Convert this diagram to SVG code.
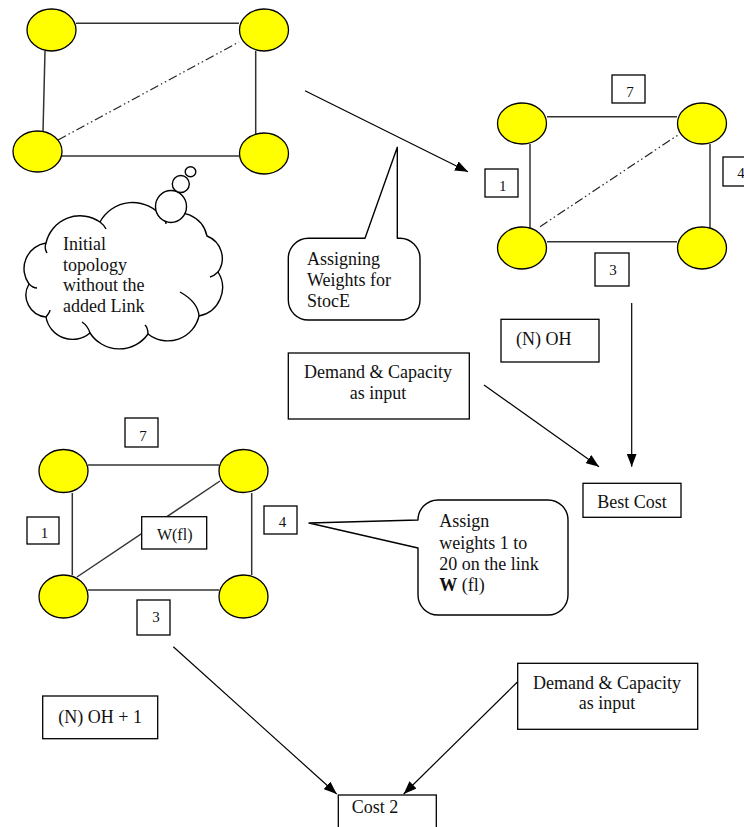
<svg xmlns="http://www.w3.org/2000/svg" width="744" height="827" viewBox="0 0 744 827">
  <style>
    .bg { fill: #ffffff; }
    .node { fill: #ffff00; stroke: #000000; stroke-width: 1.3; }
    .edge { fill: none; stroke: #333333; stroke-width: 1.5; }
    .dashdot { fill: none; stroke: #222222; stroke-width: 1.2; stroke-dasharray: 9 3 1.5 3 1.5 3; }
    .box { fill: #ffffff; stroke: #000000; stroke-width: 1.3; }
    .shape { fill: #ffffff; stroke: #000000; stroke-width: 1.4; stroke-linejoin: round; }
    .crease { fill: none; stroke: #000000; stroke-width: 1.4; }
    .arrow { fill: none; stroke: #000000; stroke-width: 1.2; marker-end: url(#head); }
    text { font-family: "Liberation Serif", "Times New Roman", serif; fill: #111111; }
    .t18 { font-size: 18px; }
    .t16 { font-size: 16px; }
    .num { font-size: 15px; text-anchor: middle; }
    .mid { text-anchor: middle; }
  </style>
  <defs>
    <marker id="head" markerUnits="userSpaceOnUse" markerWidth="13" markerHeight="10" refX="13" refY="5" orient="auto">
      <path d="M0,0 L13,5 L0,10 z" fill="#000000"/>
    </marker>
  </defs>

  <rect class="bg" x="0" y="0" width="744" height="827"/>

  <!-- Initial topology (no weights) -->
  <g id="topology-initial">
    <line class="edge" x1="76" y1="23.3" x2="239" y2="23.3"/>
    <line class="edge" x1="45" y1="51" x2="43" y2="132"/>
    <line class="edge" x1="255.7" y1="51" x2="255.7" y2="134"/>
    <line class="edge" x1="62" y1="156" x2="239" y2="156"/>
    <line class="dashdot" x1="58" y1="140" x2="239" y2="42"/>
    <ellipse id="a-n1" class="node" cx="51.5" cy="30" rx="24.5" ry="21"/>
    <ellipse id="a-n2" class="node" cx="264" cy="30" rx="24.5" ry="21"/>
    <ellipse id="a-n3" class="node" cx="37.5" cy="151.5" rx="24.5" ry="20.5"/>
    <ellipse id="a-n4" class="node" cx="264" cy="153.5" rx="24.5" ry="20.5"/>
  </g>

  <!-- Thought cloud -->
  <g id="cloud-note">
    <path class="shape" d="M46,243 A35,35 0 0 1 100,222 A37,37 0 0 1 162,217 A30,30 0 0 1 207,236 A24,24 0 0 1 218,272 A29,29 0 0 1 199,316 A32,32 0 0 1 148,334 A35,35 0 0 1 90,333 A27,27 0 0 1 46,317 A22,22 0 0 1 29,284 A26,26 0 0 1 46,243 Z"/>
    <path class="crease" d="M46,243 Q44,248 47,253"/>
    <path class="crease" d="M100,222 Q104,225 106,229"/>
    <path class="crease" d="M162,217 Q166,220 166,224"/>
    <path class="crease" d="M218,272 Q214,276 210,277"/>
    <path class="crease" d="M199,316 Q198,302 180,292"/>
    <path class="crease" d="M148,334 Q148,328 145,325"/>
    <path class="crease" d="M90,333 Q88,326 82,322"/>
    <path class="crease" d="M46,317 Q50,312 50,310"/>
    <path class="crease" d="M29,284 Q33,288 37,288"/>
    <ellipse class="shape" cx="171" cy="206.5" rx="15.5" ry="16"/>
    <ellipse class="shape" cx="180.8" cy="184" rx="8.5" ry="8.5"/>
    <ellipse class="shape" cx="190.5" cy="171.7" rx="5.3" ry="5"/>
    <text class="t18" x="63" y="250">Initial</text>
    <text class="t18" x="63" y="271">topology</text>
    <text class="t18" x="63" y="291">without the</text>
    <text class="t18" x="63" y="312">added Link</text>
  </g>

  <!-- Callout: weights for StocE -->
  <g id="callout-stoce">
    <path class="shape" d="M365,238.3 L397.3,147.3 L397.3,238.3 L400,238.3 A20,20 0 0 1 420,258.3 L420,300 A20,20 0 0 1 400,320 L308.3,320 A20,20 0 0 1 288.3,300 L288.3,258.3 A20,20 0 0 1 308.3,238.3 Z"/>
    <text class="t18" x="307" y="265">Assigning</text>
    <text class="t18" x="307" y="286">Weights for</text>
    <text class="t18" x="307" y="306.7">StocE</text>
  </g>

  <!-- Weighted topology -->
  <g id="topology-weighted">
    <line class="edge" x1="547" y1="116.7" x2="677" y2="116.7"/>
    <line class="edge" x1="530" y1="144" x2="530" y2="228"/>
    <line class="edge" x1="710" y1="144" x2="710" y2="228"/>
    <line class="edge" x1="547" y1="241.7" x2="677" y2="241.7"/>
    <line class="dashdot" x1="540" y1="226.7" x2="678" y2="135"/>
    <ellipse id="b-n1" class="node" cx="522" cy="123.5" rx="24.5" ry="20.5"/>
    <ellipse id="b-n2" class="node" cx="702" cy="123.5" rx="24.5" ry="20.5"/>
    <ellipse id="b-n3" class="node" cx="522" cy="248" rx="24.5" ry="21"/>
    <ellipse id="b-n4" class="node" cx="702" cy="248" rx="24.5" ry="21"/>
  </g>
  <g id="b-w7"><rect class="box" x="612" y="75" width="33" height="28"/><text class="num" x="630" y="96.7">7</text></g>
  <g id="b-w1"><rect class="box" x="485" y="169" width="33" height="28"/><text class="num" x="502.7" y="190.7">1</text></g>
  <g id="b-w4"><rect class="box" x="723" y="157" width="33" height="29"/><text class="num" x="741" y="178.3">4</text></g>
  <g id="b-w3"><rect class="box" x="595" y="253" width="34" height="33"/><text class="num" x="613" y="275">3</text></g>

  <!-- Process boxes -->
  <g id="n-oh">
    <rect class="box" x="501" y="319.3" width="98" height="42.7"/>
    <text class="t18" x="516" y="345">(N) OH</text>
  </g>
  <g id="demand-1">
    <rect class="box" x="288.3" y="353" width="181" height="66"/>
    <text class="t18 mid" x="378" y="378.3">Demand &amp; Capacity</text>
    <text class="t18 mid" x="378" y="399">as input</text>
  </g>
  <g id="best-cost">
    <rect class="box" x="583" y="483.3" width="98" height="34"/>
    <text class="t18" x="597.3" y="507.7">Best Cost</text>
  </g>

  <!-- Topology with trial link weight -->
  <g id="topology-trial">
    <line class="edge" x1="88" y1="465" x2="219" y2="465"/>
    <line class="edge" x1="72.3" y1="493" x2="72.3" y2="575"/>
    <line class="edge" x1="251.7" y1="493" x2="251.7" y2="575"/>
    <line class="edge" x1="88" y1="590" x2="219" y2="590"/>
    <line class="edge" x1="77" y1="577" x2="220" y2="481" stroke="#111111" stroke-width="1.3"/>
    <ellipse id="c-n1" class="node" cx="63.5" cy="471" rx="24.5" ry="21.5"/>
    <ellipse id="c-n2" class="node" cx="243.5" cy="471" rx="24.5" ry="21.5"/>
    <ellipse id="c-n3" class="node" cx="63.5" cy="596.5" rx="24.5" ry="21.5"/>
    <ellipse id="c-n4" class="node" cx="243.5" cy="596.5" rx="24.5" ry="21.5"/>
  </g>
  <g id="c-wfl"><rect class="box" x="141.7" y="516.7" width="65" height="32.3"/><text class="t16 mid" x="174.7" y="540">W(fl)</text></g>
  <g id="c-w7"><rect class="box" x="125" y="418" width="33" height="29"/><text class="num" x="143" y="440.7">7</text></g>
  <g id="c-w1"><rect class="box" x="27" y="517" width="32" height="27"/><text class="num" x="44.5" y="537.7">1</text></g>
  <g id="c-w4"><rect class="box" x="264" y="506" width="33" height="28"/><text class="num" x="282.5" y="527.3">4</text></g>
  <g id="c-w3"><rect class="box" x="137" y="600" width="33" height="35"/><text class="num" x="156" y="622.3">3</text></g>

  <!-- Callout: trial weights -->
  <g id="callout-weights">
    <path class="shape" d="M418,548 L309,523 L418,520 A20,20 0 0 1 438,500 L548,500 A20,20 0 0 1 568,520 L568,595 A20,20 0 0 1 548,615 L438,615 A20,20 0 0 1 418,595 Z"/>
    <text class="t18" x="439.3" y="527.3">Assign</text>
    <text class="t18" x="439.3" y="549.3">weights 1 to</text>
    <text class="t18" x="439.3" y="570">20 on the link</text>
    <text class="t18" x="439.3" y="590.7"><tspan font-weight="bold">W</tspan> (fl)</text>
  </g>

  <g id="n-oh-plus">
    <rect class="box" x="42.7" y="696" width="115" height="42.7"/>
    <text class="t18" x="58.3" y="722.7">(N) OH + 1</text>
  </g>
  <g id="demand-2">
    <rect class="box" x="517.7" y="663.3" width="180" height="66"/>
    <text class="t18 mid" x="607" y="689">Demand &amp; Capacity</text>
    <text class="t18 mid" x="607" y="709">as input</text>
  </g>
  <g id="cost-2">
    <rect class="box" x="338.3" y="795" width="98" height="40"/>
    <text class="t18" x="351.7" y="813">Cost 2</text>
  </g>

  <!-- Connectors -->
  <g id="connectors">
    <line class="arrow" x1="305" y1="90.7" x2="468" y2="171.7"/>
    <line class="arrow" x1="631.7" y1="303" x2="631.7" y2="466.7"/>
    <line class="arrow" x1="484" y1="385" x2="599" y2="466.7"/>
    <line class="arrow" x1="173.3" y1="646.7" x2="336.7" y2="794"/>
    <line class="arrow" x1="517.7" y1="681.7" x2="403.7" y2="794"/>
  </g>
</svg>
